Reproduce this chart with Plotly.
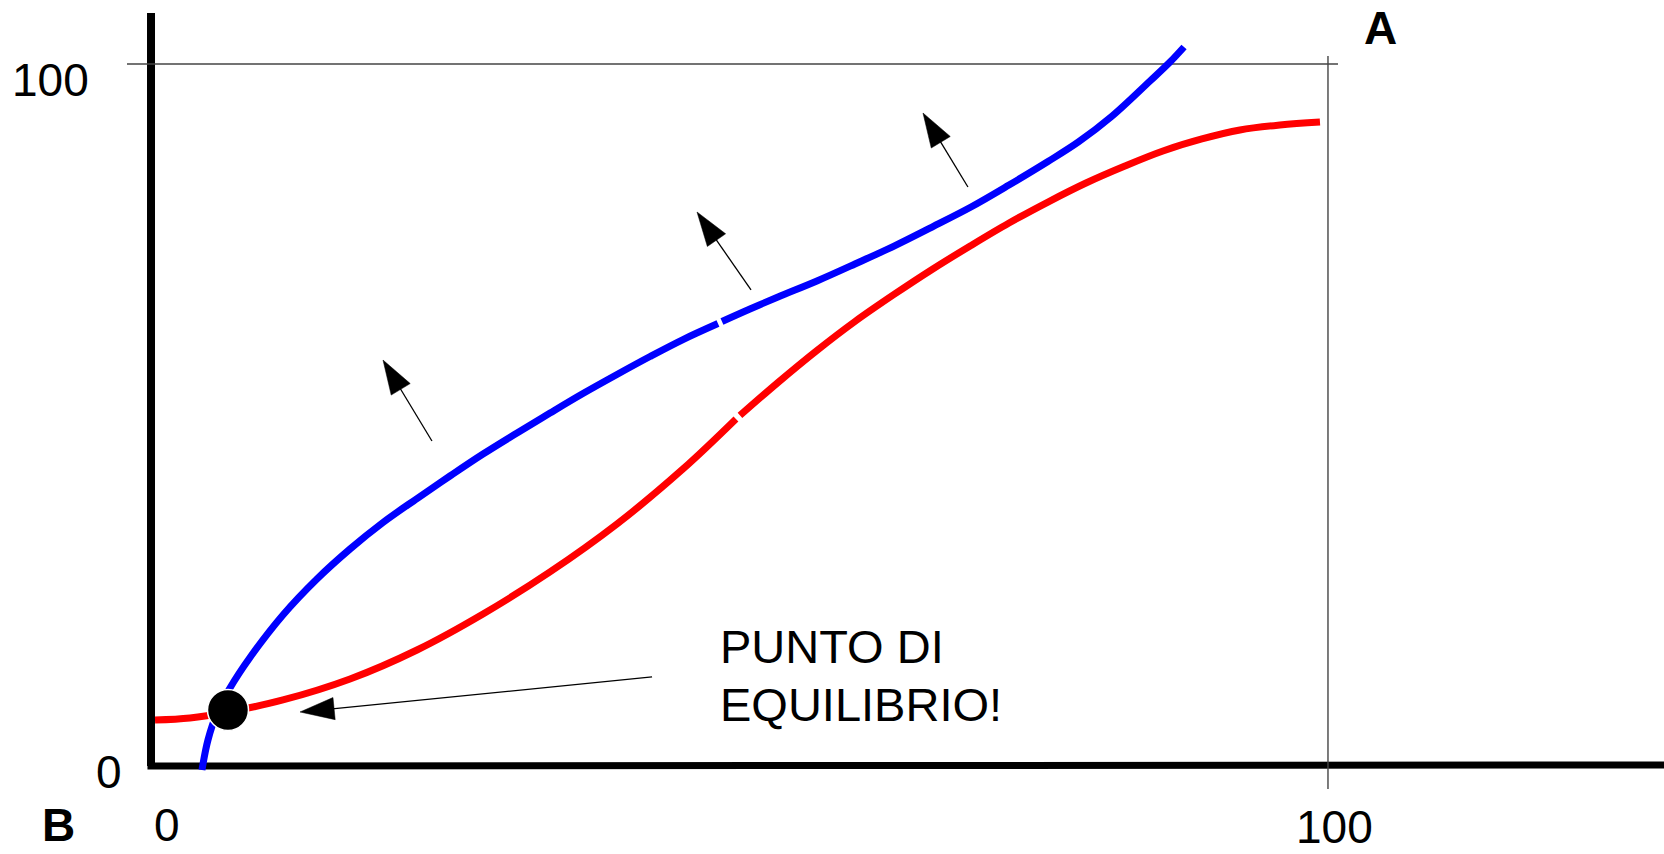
import plotly.graph_objects as go

# ---- data ----
blue_x = [4.33, 4.84, 5.61, 6.71, 8.41, 11.21, 14.10, 16.91, 19.71, 22.60, 25.40, 28.21,
          31.10, 33.90, 36.70, 39.59, 42.40, 45.20, 48.17, None, 48.51, 50.89, 53.27,
          56.58, 59.81, 63.13, 66.36, 69.67, 72.90, 76.21, 78.80, 81.60, 84.88, 86.58, 87.77]
blue_y = [-0.57, 3.70, 7.55, 11.11, 15.46, 21.51, 26.64, 30.91, 34.69, 38.10, 41.31, 44.44,
          47.44, 50.28, 53.06, 55.77, 58.33, 60.75, 63.03, None, 63.32, 65.10, 66.81,
          69.09, 71.51, 74.07, 76.78, 79.63, 82.76, 86.11, 88.90, 92.50, 97.58, 100.28, 102.42]

red_x = [0.34, 3.31, 6.54, 11.21, 16.91, 22.60, 28.21, 33.90, 39.59, 45.20, 49.70, None,
         50.04, 53.27, 56.58, 59.81, 63.13, 66.36, 69.67, 72.90, 76.21, 79.44, 82.75,
         85.98, 89.29, 92.52, 95.92, 99.32]
red_y = [6.55, 6.84, 7.69, 9.40, 12.39, 16.52, 21.65, 27.64, 34.47, 42.31, 49.43, None,
         49.93, 54.63, 59.19, 63.32, 67.17, 70.73, 74.15, 77.35, 80.34, 83.05, 85.47,
         87.61, 89.32, 90.60, 91.31, 91.74]

eq_x = [6.54]
eq_y = [7.98]

arrow_tail_x = [23.87, 50.98, 69.41, 42.57]
arrow_tail_y = [46.30, 67.81, 82.48, 12.68]
arrow_tip_x = [19.71, 46.39, 65.59, 12.66]
arrow_tip_y = [57.83, 78.92, 93.02, 7.69]

label_text = ["100", "0", "B", "0", "100", "A"]
label_x = [-8.50, -3.57, -7.90, 1.36, 100.59, 104.42]
label_y = [97.72, -0.85, -8.45, -8.45, -8.75, 105.13]
label_bold = [False, False, True, False, False, True]

note_lines = ["PUNTO DI", "EQUILIBRIO!"]
note_x = 48.17
note_y = [17.02, 8.76]

X_RANGE = [-12.83, 128.55]
Y_RANGE = [-12.54, 109.12]

FONT = "Liberation Sans, Arial, sans-serif"

fig = go.Figure()

# curves
fig.add_trace(go.Scatter(x=red_x, y=red_y, mode="lines", connectgaps=False,
                         line=dict(color="#ff0000", width=7, shape="spline", smoothing=1),
                         hoverinfo="skip"))
fig.add_trace(go.Scatter(x=blue_x, y=blue_y, mode="lines", connectgaps=False,
                         line=dict(color="#0000ff", width=7, shape="spline", smoothing=1),
                         hoverinfo="skip"))

# equilibrium point
fig.add_trace(go.Scatter(x=eq_x, y=eq_y, mode="markers",
                         marker=dict(size=41, color="black", opacity=1,
                                     line=dict(color="white", width=1.5)),
                         hoverinfo="skip"))

# arrows
for tx, ty, hx, hy in zip(arrow_tail_x, arrow_tail_y, arrow_tip_x, arrow_tip_y):
    fig.add_trace(go.Scatter(
        x=[tx, hx], y=[ty, hy], mode="lines+markers",
        line=dict(color="black", width=1.3),
        marker=dict(symbol="arrow", size=[0, 36], angleref="previous", opacity=1,
                    color="black", line=dict(width=0.5, color="black")),
        hoverinfo="skip"))

# axes & guide lines
shapes = [
    dict(type="line", x0=0, x1=0, y0=0, y1=107.26, line=dict(color="black", width=8), layer="below"),
    dict(type="line", x0=-0.3, x1=X_RANGE[1], y0=0, y1=0.14, line=dict(color="black", width=7), layer="below"),
    dict(type="line", x0=-2.04, x1=100.85, y0=100, y1=100, line=dict(color="#444444", width=1.4), layer="below"),
    dict(type="line", x0=100, x1=100, y0=-3.28, y1=101.14, line=dict(color="#444444", width=1.4), layer="below"),
]

annotations = []
for t, x, y, b in zip(label_text, label_x, label_y, label_bold):
    annotations.append(dict(x=x, y=y, xref="x", yref="y", text=("<b>%s</b>" % t) if b else t,
                            showarrow=False, xanchor="center", yanchor="middle",
                            font=dict(family=FONT, size=46, color="black")))
for t, y in zip(note_lines, note_y):
    annotations.append(dict(x=note_x, y=y, xref="x", yref="y", text=t, showarrow=False,
                            xanchor="left", yanchor="middle",
                            font=dict(family=FONT, size=47, color="black")))

fig.update_layout(
    width=1664, height=854,
    margin=dict(l=0, r=0, t=0, b=0),
    paper_bgcolor="white", plot_bgcolor="white",
    showlegend=False,
    xaxis=dict(range=X_RANGE, visible=False, fixedrange=True),
    yaxis=dict(range=Y_RANGE, visible=False, fixedrange=True),
    shapes=shapes,
    annotations=annotations,
)

fig.write_html("out.html", post_script="document.body.style.margin='0';document.body.style.overflow='hidden';",
               config={"displayModeBar": False})
